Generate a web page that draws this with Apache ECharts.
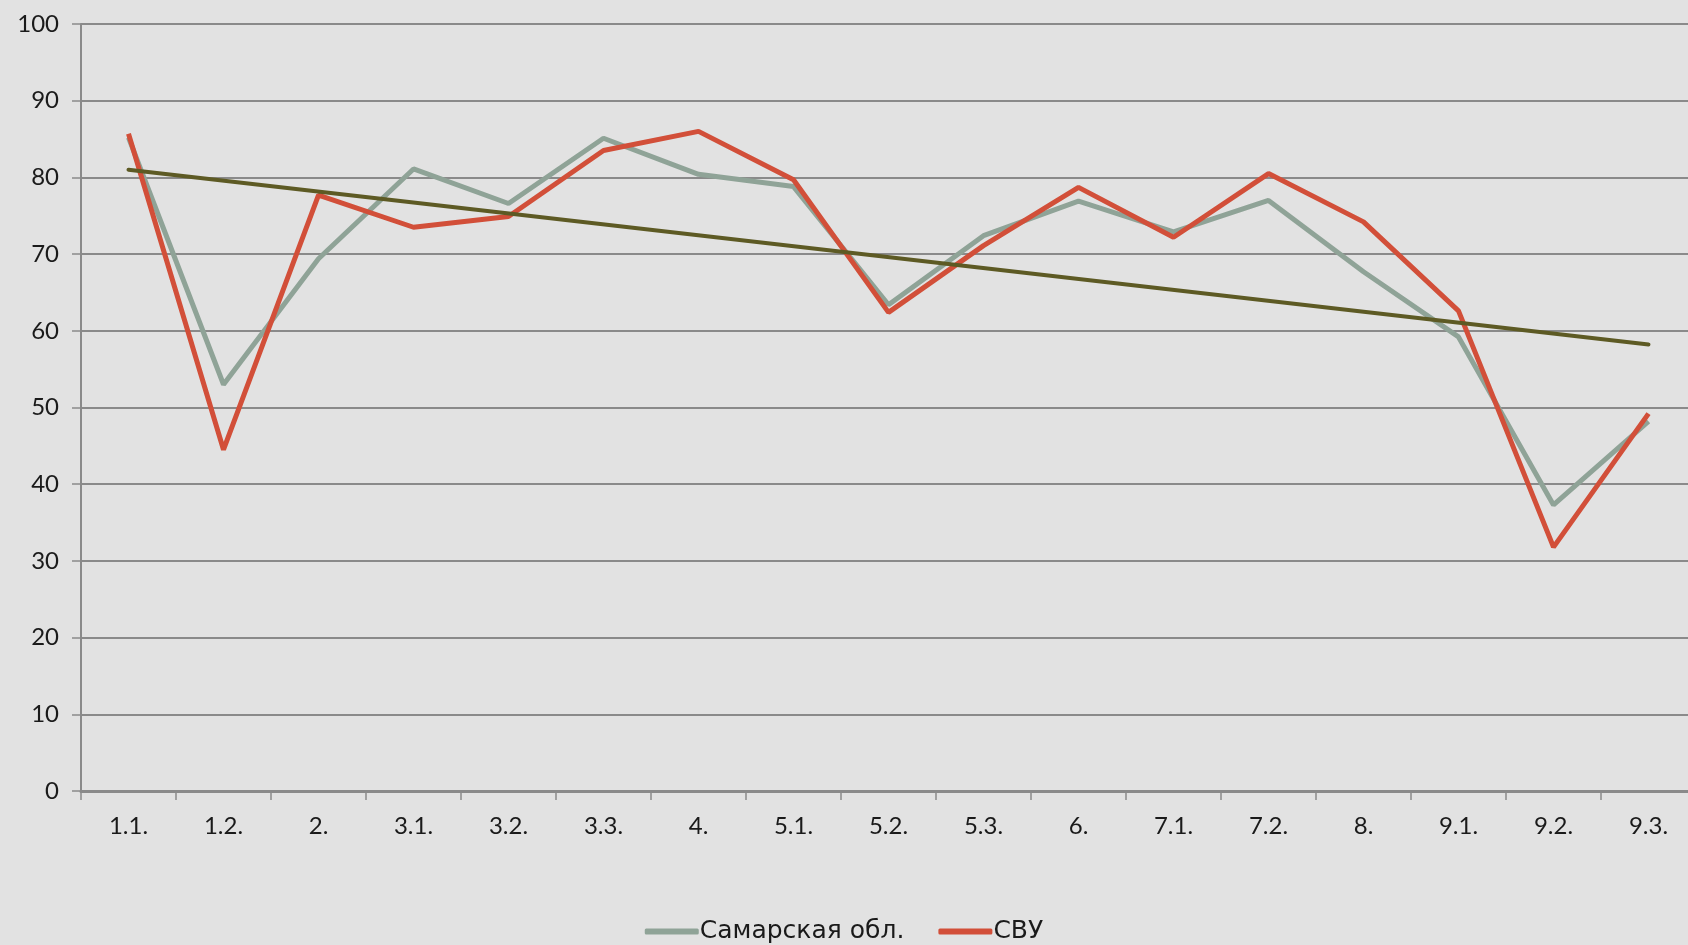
<!DOCTYPE html>
<html>
<head>
<meta charset="utf-8">
<script src="https://cdn.jsdelivr.net/npm/echarts@6/dist/echarts.min.js"></script>
<style>
  html, body { margin: 0; padding: 0; background: #e2e2e2; }
  #chart { width: 1688px; height: 945px; }
</style>
</head>
<body>
<div id="chart"></div>
<script>
const categories = ['1.1.', '1.2.', '2.', '3.1.', '3.2.', '3.3.', '4.', '5.1.', '5.2.', '5.3.', '6.', '7.1.', '7.2.', '8.', '9.1.', '9.2.', '9.3.']
const samara = [85.2, 53.0, 69.4, 81.1, 76.6, 85.1, 80.4, 78.8, 63.4, 72.4, 76.9, 72.9, 77.0, 67.7, 59.2, 37.3, 48.2]
const svu = [85.7, 44.5, 77.7, 73.5, 74.9, 83.5, 86.0, 79.7, 62.4, 71.1, 78.7, 72.2, 80.5, 74.2, 62.6, 31.8, 49.2]
// linear trend: value at first and last category
const trendEnds = [81.0, 58.2]
const yTicks = [0, 100, 10] // min, max, step

const chart = echarts.init(document.getElementById('chart'))
const font = 'Lato, "Noto Sans", sans-serif'

chart.setOption({
  backgroundColor: '#e2e2e2',
  animation: false,
  grid: {
    left: 81,
    width: 1615, // runs a little past the right edge, like the original
    top: 24,
    bottom: 154,
    outerBoundsMode: 'none'
  },
  legend: {
    data: ['Самарская обл.', 'СВУ'],
    bottom: -4,
    left: 'center',
    icon: 'roundRect',
    itemWidth: 54,
    itemHeight: 6,
    itemGap: 34,
    textStyle: {
      color: '#1a1a1a',
      fontSize: 25,
      fontFamily: '"DejaVu Sans", sans-serif',
      padding: [0, 0, 0, -4]
    }
  },
  xAxis: {
    type: 'category',
    data: categories,
    boundaryGap: true,
    axisLine: { lineStyle: { color: '#8a8a8a', width: 3 } },
    axisTick: { show: true, length: 9, lineStyle: { color: '#8a8a8a', width: 1.5 } },
    axisLabel: {
      color: '#1a1a1a',
      fontSize: 24,
      fontFamily: font,
      margin: 23
    }
  },
  yAxis: {
    type: 'value',
    min: yTicks[0],
    max: yTicks[1],
    interval: yTicks[2],
    axisLine: { show: true, lineStyle: { color: '#8a8a8a', width: 2 } },
    axisTick: { show: true, length: 9, lineStyle: { color: '#8a8a8a', width: 1.5 } },
    splitLine: { lineStyle: { color: '#8a8a8a', width: 2 } },
    axisLabel: {
      color: '#1a1a1a',
      fontSize: 24,
      fontFamily: font,
      margin: 22
    }
  },
  series: [
    {
      name: 'Самарская обл.',
      type: 'line',
      data: samara,
      symbol: 'none',
      color: '#8fa397',
      lineStyle: { width: 5, color: '#8fa397' }
    },
    {
      name: 'СВУ',
      type: 'line',
      data: svu,
      symbol: 'none',
      color: '#d24f39',
      lineStyle: { width: 5, color: '#d24f39' }
    },
    {
      name: 'Тренд',
      type: 'line',
      data: [[categories[0], trendEnds[0]], [categories[categories.length - 1], trendEnds[1]]],
      symbol: 'none',
      color: '#5d5a24',
      lineStyle: { width: 4, color: '#5d5a24', cap: 'round' }
    }
  ]
})
</script>
</body>
</html>
